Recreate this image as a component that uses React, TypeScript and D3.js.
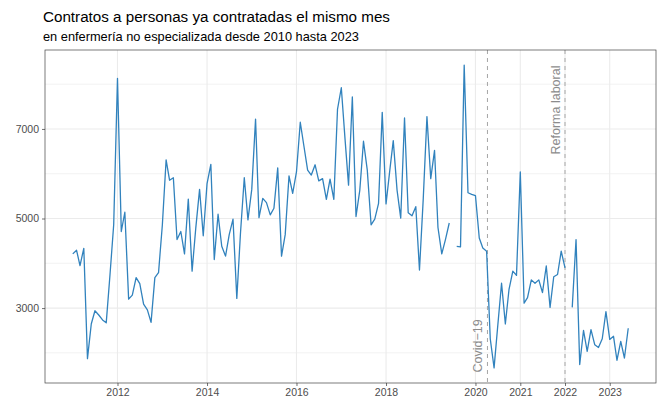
import React, { useEffect, useRef } from 'react';
import * as d3 from 'd3';

// monthly values, Jan 2011 .. Jun 2023 (null = no data)
const values2011 = [4210, 4290, 3950, 4335, 1870, 2645, 2940, 2845, 2735, 2670, 3750, 4860];
const values2012 = [8130, 4710, 5140, 3200, 3290, 3680, 3545, 3090, 2960, 2680, 3680, 3790];
const values2013 = [4850, 6310, 5855, 5910, 4530, 4710, 4210, 5435, 3825, 4785, 5650, 4615];
const values2014 = [5780, 6210, 4085, 5095, 4380, 4160, 4640, 4985, 3215, 4675, 5910, 4970];
const values2015 = [5650, 7220, 5020, 5450, 5355, 5080, 5230, 6130, 4160, 4640, 5950, 5560];
const values2016 = [6040, 7150, 6630, 6080, 5970, 6200, 5840, 5890, 5430, 5880, 5430, 7440];
const values2017 = [7920, 6750, 5745, 7715, 5045, 5635, 6725, 6080, 4860, 4985, 5340, 7370];
const values2018 = [5325, 6080, 6740, 5635, 5010, 7245, 5130, 5060, 5265, 3850, 5450, 7275];
const values2019 = [5890, 6520, 4800, 4210, 4530, 4900, null, 4380, 4365, 8425, 5575, 5540];
const values2020 = [5510, 4565, 4340, 4270, 2310, 1665, 2605, 3555, 2645, 3420, 3825, 3730];
const values2021 = [6040, 3110, 3235, 3630, 3555, 3630, 3345, 3940, 3015, 3700, 3750, 4270];
const values2022 = [3900, null, 3015, 4530, 1740, 2500, 2035, 2520, 2180, 2120, 2315, 2920];
const values2023 = [2300, 2370, 1835, 2255, 1885, 2550];

const allValues: (number | null)[] = [
  ...values2011, ...values2012, ...values2013, ...values2014, ...values2015,
  ...values2016, ...values2017, ...values2018, ...values2019, ...values2020,
  ...values2021, ...values2022, ...values2023,
];

const xTickYears = [2012, 2014, 2016, 2018, 2020, 2021, 2022, 2023];
const yMajorTicks = [3000, 5000, 7000];
const yMinorTicks = [2000, 4000, 6000, 8000];

const events = [
  { date: new Date(2020, 3, 8), label: 'Covid−19', mid: 346 },
  { date: new Date(2022, 0, 1), label: 'Reforma laboral', mid: 110 },
];

type Point = { date: Date; value: number | null };

const data: Point[] = allValues.map((v, i) => ({
  date: new Date(2011, i, 1),
  value: v,
}));

const width = 661;
const height = 404;
const font = '"Liberation Sans", Arial, Helvetica, sans-serif';

export default function App() {
  const svgRef = useRef<SVGSVGElement>(null);

  useEffect(() => {
    if (!svgRef.current) return;
    const margin = { top: 50, right: 5, bottom: 21, left: 45 };

    const svg = d3.select(svgRef.current);
    svg.selectAll('*').remove();

    const [d0, d1] = d3.extent(data, (d) => d.date) as [Date, Date];
    const span = d1.getTime() - d0.getTime();
    const x = d3
      .scaleTime()
      .domain([new Date(d0.getTime() - span * 0.05), new Date(d1.getTime() + span * 0.05)])
      .range([margin.left, width - margin.right]);

    const vals = data.filter((d) => d.value != null).map((d) => d.value as number);
    const vMin = d3.min(vals) as number;
    const vMax = d3.max(vals) as number;
    const pad = (vMax - vMin) * 0.05;
    const y = d3
      .scaleLinear()
      .domain([vMin - pad, vMax + pad])
      .range([height - margin.bottom, margin.top]);

    const left = margin.left;
    const right = width - margin.right;
    const top = margin.top;
    const bottom = height - margin.bottom;

    // grid
    svg
      .append('g')
      .selectAll('line')
      .data(yMinorTicks)
      .join('line')
      .attr('x1', left)
      .attr('x2', right)
      .attr('y1', (d) => y(d))
      .attr('y2', (d) => y(d))
      .attr('stroke', '#efefef')
      .attr('stroke-width', 0.8);

    svg
      .append('g')
      .selectAll('line')
      .data(yMajorTicks)
      .join('line')
      .attr('x1', left)
      .attr('x2', right)
      .attr('y1', (d) => y(d))
      .attr('y2', (d) => y(d))
      .attr('stroke', '#ebebeb')
      .attr('stroke-width', 1.1);

    svg
      .append('g')
      .selectAll('line')
      .data(xTickYears)
      .join('line')
      .attr('x1', (d) => x(new Date(d, 0, 1)))
      .attr('x2', (d) => x(new Date(d, 0, 1)))
      .attr('y1', top)
      .attr('y2', bottom)
      .attr('stroke', '#ebebeb')
      .attr('stroke-width', 1.1);

    // event lines
    const ev = svg.append('g');
    events.forEach((e) => {
      const ex = x(e.date);
      ev.append('line')
        .attr('x1', ex)
        .attr('x2', ex)
        .attr('y1', top)
        .attr('y2', bottom)
        .attr('stroke', '#a6a6a6')
        .attr('stroke-width', 1)
        .attr('stroke-dasharray', '4,4');
      ev.append('text')
        .attr('transform', `translate(${ex - 5},${e.mid}) rotate(-90)`)
        .attr('text-anchor', 'middle')
        .attr('font-family', font)
        .attr('font-size', 12.5)
        .attr('fill', '#8c8c8c')
        .text(e.label);
    });

    // series
    const line = d3
      .line<Point>()
      .defined((d) => d.value != null)
      .x((d) => x(d.date))
      .y((d) => y(d.value as number));

    svg
      .append('path')
      .datum(data)
      .attr('fill', 'none')
      .attr('stroke', '#3182bd')
      .attr('stroke-width', 1.3)
      .attr('stroke-linejoin', 'round')
      .attr('d', line);

    // panel border
    svg
      .append('rect')
      .attr('x', left)
      .attr('y', top)
      .attr('width', right - left)
      .attr('height', bottom - top)
      .attr('fill', 'none')
      .attr('stroke', '#444444')
      .attr('stroke-width', 0.7);

    // axes
    const xAxis = svg
      .append('g')
      .attr('transform', `translate(0,${bottom})`)
      .call(
        d3
          .axisBottom(x)
          .tickValues(xTickYears.map((yr) => new Date(yr, 0, 1)))
          .tickFormat((d) => d3.timeFormat('%Y')(d as Date))
          .tickSize(3)
          .tickPadding(3)
      );
    const yAxis = svg
      .append('g')
      .attr('transform', `translate(${left},0)`)
      .call(d3.axisLeft(y).tickValues(yMajorTicks).tickSize(3).tickPadding(3).tickFormat(d3.format('d')));

    [xAxis, yAxis].forEach((a) => {
      a.select('.domain').remove();
      a.selectAll('.tick line').attr('stroke', '#333333').attr('stroke-width', 0.7);
      a.selectAll('.tick text')
        .attr('fill', '#4d4d4d')
        .attr('font-family', font)
        .attr('font-size', 10.5);
    });

    // titles
    svg
      .append('text')
      .attr('x', 43)
      .attr('y', 22)
      .attr('font-family', font)
      .attr('font-size', 15.2)
      .attr('fill', '#000')
      .text('Contratos a personas ya contratadas el mismo mes');
    svg
      .append('text')
      .attr('x', 43)
      .attr('y', 41)
      .attr('font-family', font)
      .attr('font-size', 12.8)
      .attr('fill', '#000')
      .text('en enfermería no especializada desde 2010 hasta 2023');
  }, []);

  return (
    <svg
      ref={svgRef}
      width={width}
      height={height}
      style={{ position: 'absolute', left: 0, top: 0, background: '#fff' }}
    ></svg>
  );
}
